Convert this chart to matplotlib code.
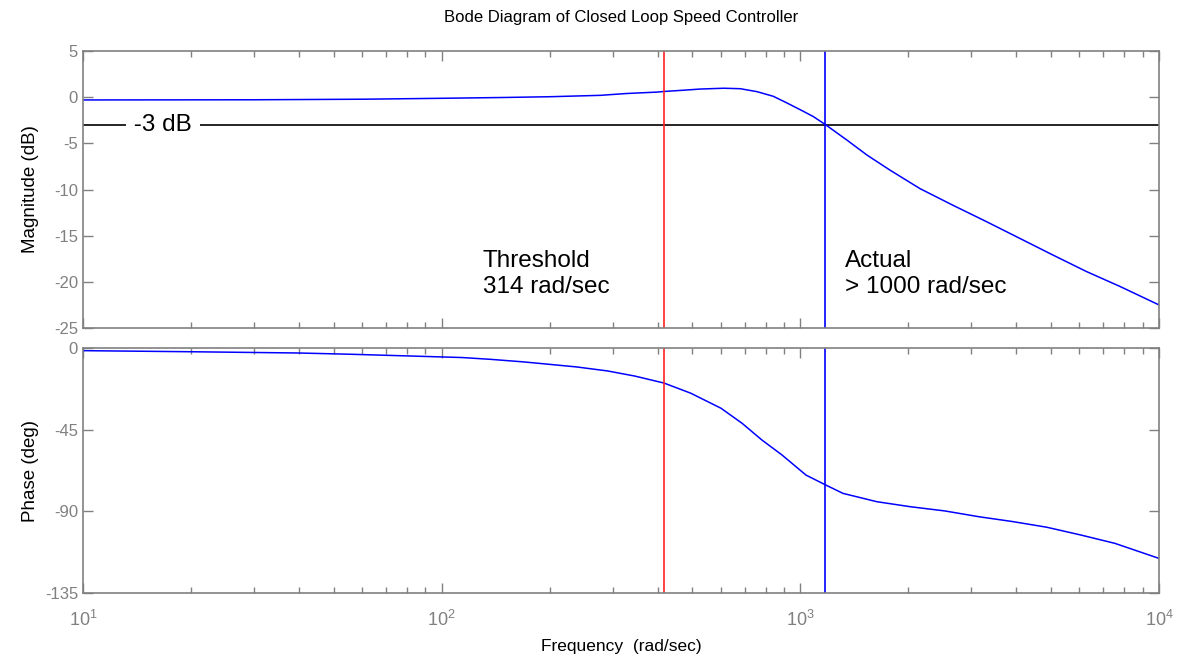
import matplotlib
matplotlib.use("Agg")
import matplotlib.pyplot as plt
from matplotlib.ticker import LogLocator, FixedLocator

plt.rcParams['font.family'] = ['Liberation Sans', 'DejaVu Sans']
plt.rcParams['axes.unicode_minus'] = False

# closed loop response, read at a set of frequencies (rad/sec)
mag_freq = [10, 30, 60, 100, 150, 200, 277, 328, 398, 417, 470, 525, 610, 680,
            757, 840, 915, 1016, 1087, 1178, 1348, 1533, 1778, 2155, 2662, 3311,
            4095, 5063, 6289, 7784, 10000]
mag_db = [-0.3, -0.28, -0.22, -0.12, -0.03, 0.05, 0.2, 0.4, 0.55, 0.62, 0.75, 0.88,
          0.97, 0.92, 0.6, 0.1, -0.6, -1.5, -2.1, -3.0, -4.64, -6.26, -7.9, -9.9,
          -11.7, -13.5, -15.3, -17.1, -18.9, -20.5, -22.5]

phase_freq = [10, 20, 40, 56, 80, 114, 137, 169, 196, 238, 290, 345, 417, 495, 601,
              688, 781, 889, 1037, 1178, 1315, 1634, 2032, 2529, 3148, 3917, 4866,
              6057, 7535, 10000]
phase_deg = [-1.2, -1.8, -2.5, -3.2, -4.1, -5.0, -6.0, -7.4, -8.6, -10.2, -12.4, -15.2,
             -19.1, -24.7, -33.0, -41.3, -50.5, -58.8, -69.9, -75.4, -80.0, -84.6,
             -87.4, -89.7, -92.9, -95.6, -98.7, -103.0, -107.6, -115.9]

threshold_w = 417     # red marker
actual_w = 1175       # blue marker (-3 dB crossing)
cutoff_db = -3

mag_ticks = [5, 0, -5, -10, -15, -20, -25]
phase_ticks = [0, -45, -90, -135]

grey = '#808080'

fig = plt.figure(figsize=(11.77, 6.61), dpi=100)
ax1 = fig.add_axes([0.0705, 0.5038, 0.9142, 0.419])
ax2 = fig.add_axes([0.0705, 0.1029, 0.9142, 0.3699])

for ax in (ax1, ax2):
    ax.set_xscale('log')
    ax.set_xlim(10, 1e4)
    ax.xaxis.set_major_locator(LogLocator(base=10, numticks=10))
    ax.xaxis.set_minor_locator(LogLocator(base=10, subs=range(2, 10), numticks=10))
    for sp in ax.spines.values():
        sp.set_color(grey)
        sp.set_linewidth(1.2)
    ax.tick_params(which='both', direction='in', top=True, right=True,
                   colors=grey, labelsize=12, width=1.0)
    ax.tick_params(which='major', length=7)
    ax.tick_params(which='minor', length=4.5)

# magnitude
ax1.plot(mag_freq, mag_db, color='#0000ff', lw=1.1)
ax1.axhline(cutoff_db, color='black', lw=1.2, zorder=1)
ax1.axvline(threshold_w, color='#ff2020', lw=1.2)
ax1.axvline(actual_w, color='#0000ff', lw=1.2)
ax1.set_ylim(-25, 5)
ax1.yaxis.set_major_locator(FixedLocator(mag_ticks))
ax1.tick_params(axis='x', labelbottom=False)
ax1.set_ylabel('Magnitude (dB)', fontsize=13.5)
ax1.text(13.3, cutoff_db, ' -3 dB ', fontsize=17.5, va='center', ha='left',
         bbox=dict(facecolor='white', edgecolor='none', pad=1.0), zorder=3)
ax1.text(130, -19.15, 'Threshold\n314 rad/sec', fontsize=17.5, va='center',
         ha='left', linespacing=1.22)
ax1.text(1330, -19.15, 'Actual\n> 1000 rad/sec', fontsize=17.5, va='center',
         ha='left', linespacing=1.22)
ax1.set_title('Bode Diagram of Closed Loop Speed Controller', fontsize=12, pad=21)

# phase
ax2.plot(phase_freq, phase_deg, color='#0000ff', lw=1.1)
ax2.axvline(threshold_w, color='#ff2020', lw=1.2)
ax2.axvline(actual_w, color='#0000ff', lw=1.2)
ax2.set_ylim(-135, 0)
ax2.yaxis.set_major_locator(FixedLocator(phase_ticks))
ax2.set_ylabel('Phase (deg)', fontsize=13.5)
ax2.set_xlabel('Frequency  (rad/sec)', fontsize=12.5, labelpad=7)
ax2.tick_params(axis='x', pad=12, labelsize=13)

for ax in (ax1, ax2):
    ax.yaxis.label.set_color('black')
    ax.xaxis.label.set_color('black')

ax1.yaxis.set_label_coords(-0.041, 0.5)
ax2.yaxis.set_label_coords(-0.041, 0.5)

fig.savefig('out.png', dpi=100)
